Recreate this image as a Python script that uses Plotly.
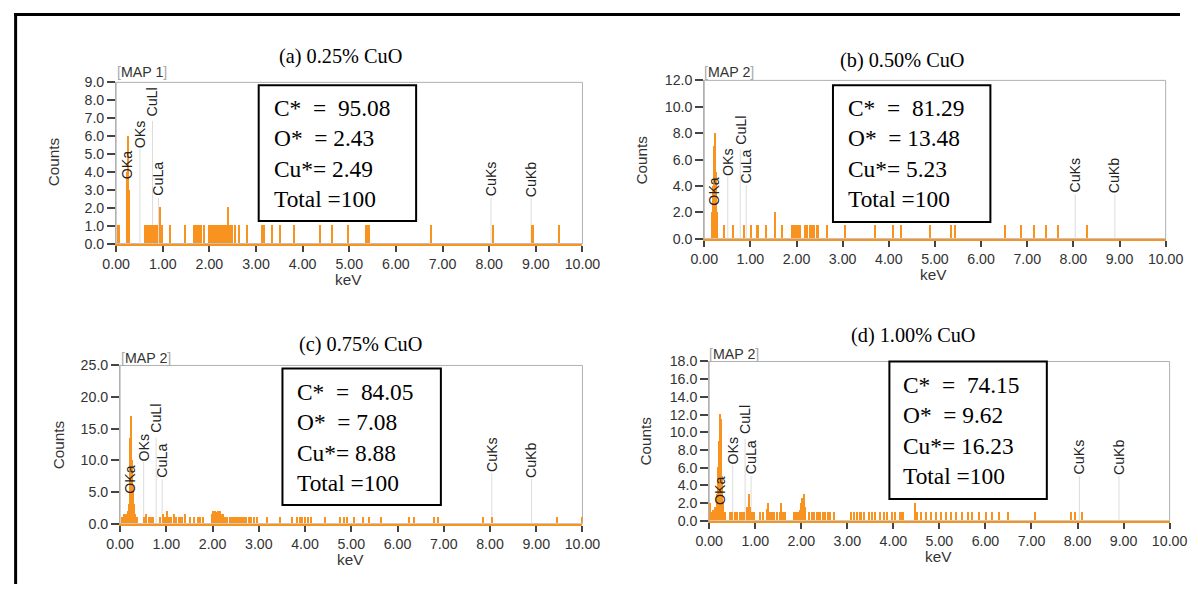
import plotly.graph_objects as go

# ---------------- data ----------------
titles = ["(a) 0.25% CuO", "(b) 0.50% CuO", "(c) 0.75% CuO", "(d) 1.00% CuO"]
map_labels = ["MAP 1", "MAP 2", "MAP 2", "MAP 2"]

a_kev = [0.04, 0.07,
         0.24, 0.26, 0.28,
         0.62, 0.65, 0.69, 0.72, 0.76, 0.79, 0.83, 0.87, 0.94, 0.99,
         1.16, 1.47, 1.67, 1.72, 1.77, 1.83, 1.89,
         2.00, 2.03, 2.06, 2.09, 2.12, 2.15, 2.18, 2.21, 2.24, 2.27,
         2.30, 2.33, 2.36, 2.41, 2.45, 2.49, 2.56, 2.64, 2.80,
         3.13, 3.17, 3.34, 3.52, 3.82, 4.37, 4.64, 4.97, 5.36, 5.40, 5.43,
         6.76, 8.09, 8.93, 9.50]
a_cnt = [1, 1,
         4, 6, 3,
         1, 1, 1, 1, 1, 1, 1, 1, 2, 1,
         1, 1, 1, 1, 1, 1, 1,
         1, 1, 1, 1, 1, 1, 1, 1, 1, 1,
         1, 1, 1, 2, 1, 1, 1, 1, 1,
         1, 1, 1, 1, 1, 1, 1, 1, 1, 1, 1,
         1, 1, 1, 1]

b_kev = [0.17, 0.20, 0.22, 0.24, 0.26, 0.28,
         0.44, 0.62, 0.86, 1.01, 1.16, 1.34, 1.53, 1.69,
         1.91, 1.94, 1.98, 2.02, 2.05, 2.09,
         2.19, 2.23, 2.29, 2.34, 2.39, 2.44, 2.48,
         2.66, 3.05, 3.71, 4.09, 4.26, 4.89, 5.36, 5.44,
         6.53, 6.87, 7.16, 7.41, 7.68, 8.30]
b_cnt = [2, 4, 7, 8, 5, 2,
         1, 1, 1, 1, 1, 1, 2, 1,
         1, 1, 1, 1, 1, 1,
         1, 1, 1, 1, 1, 1, 1,
         1, 1, 1, 1, 1, 1, 1, 1,
         1, 1, 1, 1, 1, 1]

c_kev = [0.04, 0.09, 0.13, 0.18,
         0.20, 0.22, 0.24, 0.26, 0.28, 0.30,
         0.32, 0.36,
         0.51, 0.57, 0.63, 0.68, 0.71,
         0.86, 0.93, 0.97, 1.01, 1.06, 1.11, 1.16, 1.21, 1.27, 1.33, 1.40,
         1.51, 1.61, 1.68, 1.73, 1.79,
         2.00, 2.02, 2.05, 2.08, 2.11, 2.14, 2.17, 2.20, 2.23, 2.27,
         2.32, 2.37, 2.42, 2.47, 2.52, 2.57, 2.62, 2.67, 2.72, 2.78, 2.84, 2.90, 2.97,
         3.18, 3.46, 3.71, 3.82, 3.89, 3.94, 4.00, 4.07, 4.14, 4.43,
         4.75, 4.84, 4.91, 5.07, 5.25, 5.39, 5.64, 6.25, 6.36, 6.79, 6.87,
         7.86, 8.04, 9.46, 9.99]
c_cnt = [1, 1.5, 1.5, 2,
         3, 13.5, 17, 10, 6, 3,
         1.5, 1,
         1, 1.5, 1, 1, 1,
         1, 1.5, 1, 2, 1, 1, 1.5, 1, 1, 1, 1.5,
         1, 1, 1, 1, 1,
         1.5, 2, 2, 1.8, 2, 1.5, 2, 1.5, 1.5, 1,
         1, 1, 1, 1, 1, 1, 1, 1, 1, 1, 1, 1, 1,
         1, 1, 1, 1, 1, 1, 1, 1, 1, 1,
         1, 1, 1, 1, 1, 1, 1, 1, 1, 1, 1,
         1, 1, 1, 1]

d_kev = [0.01, 0.05, 0.09, 0.13,
         0.18, 0.20, 0.22, 0.24, 0.26, 0.28, 0.30,
         0.34,
         0.46, 0.50, 0.57, 0.61, 0.68, 0.72, 0.77, 0.82, 0.86, 0.89, 0.93, 0.97,
         1.11, 1.18, 1.25, 1.29, 1.32, 1.37, 1.42, 1.47, 1.54, 1.57, 1.61, 1.66,
         1.85, 1.87, 1.90, 1.93, 1.97, 2.00, 2.03, 2.06, 2.09,
         2.18, 2.23, 2.29, 2.35, 2.40, 2.47, 2.52, 2.58, 2.63, 2.72,
         3.08, 3.15, 3.22, 3.29, 3.36, 3.47, 3.54, 3.61, 3.71, 3.81, 3.86, 3.97, 4.04, 4.16, 4.22,
         4.47, 4.51,
         4.61, 4.72, 4.83, 4.94, 5.04, 5.15, 5.26, 5.36, 5.49, 5.62, 5.72, 5.87, 6.01, 6.14, 6.29, 6.50,
         7.08, 7.87, 7.94, 8.10]
d_cnt = [2, 1, 1.2, 1.5,
         3, 6, 9, 12, 11.5, 5, 2,
         1,
         1, 1, 1, 1, 1, 1, 1, 1.5, 3, 1.5, 1, 1,
         1, 1, 1.3, 2, 1, 1, 1, 1, 1, 2, 1, 1,
         1, 1, 1, 1, 1.2, 2, 2.5, 3, 1.5,
         1, 1, 1, 1, 1, 1, 1, 1, 1, 1,
         1, 1, 1, 1, 1, 1, 1, 1, 1, 1, 1, 1, 1, 1, 1,
         2, 1,
         1, 1, 1, 1, 1, 1, 1, 1, 1, 1, 1, 1, 1, 1, 1, 1,
         1, 1, 1, 1]

line_names = ["OKa", "OKs", "CuLl", "CuLa", "CuKs", "CuKb"]
line_kev = [0.22, 0.51, 0.78, 0.91, 8.04, 8.90]

comp_C = ["95.08", "81.29", "84.05", "74.15"]
comp_O = ["2.43", "13.48", "7.08", "9.62"]
comp_Cu = ["2.49", "5.23", "8.88", "16.23"]
comp_total = ["100", "100", "100", "100"]

# ---------------- layout (pixel geometry) ----------------
W, H = 1198, 592
K = 0.983      # observed scale of the captured page
OX, OY = 8, 8  # default page margin
ORANGE = "#F7931E"
SANS = "Liberation Sans"
SERIF = "Liberation Serif"

def fx(p):
    return (p / K - OX) / W

def fy(p):
    return 1 - (p / K - OY) / H

def fs(s):
    return round(s / K, 1)

spectra = [(a_kev, a_cnt), (b_kev, b_cnt), (c_kev, c_cnt), (d_kev, d_cnt)]
geom = [
    dict(l=111, r=582, t=83, b=246, ymax=9, dt=1, title=(338, 57), box=(255, 414, 86, 223), txt=(268, 155),
         counts=(48, 163), kev=(346, 282), map=(110, 73), laby=[4.4, 6.1, 7.9, 3.6, 3.6, 3.6]),
    dict(l=705, r=1171, t=81, b=241, ymax=12, dt=2, title=(905, 61), box=(835, 994, 86, 224), txt=(848, 155),
         counts=(642, 161), kev=(937, 277), map=(703, 73), laby=[3.6, 5.8, 8.2, 5.5, 4.8, 4.8]),
    dict(l=115, r=582, t=369, b=529, ymax=25, dt=5, title=(358, 348), box=(279, 439, 372, 510), txt=(292, 442),
         counts=(53, 449), kev=(348, 565), map=(114, 361), laby=[7.0, 12.0, 16.6, 10.0, 11.0, 10.0]),
    dict(l=710, r=1175, t=365, b=526, ymax=18, dt=2, title=(916, 339), box=(892, 1051, 365, 504), txt=(904, 435),
         counts=(646, 445), kev=(942, 562), map=(708, 357), laby=[3.4, 7.9, 11.4, 7.2, 7.2, 7.2]),
]

fig = go.Figure()
layout = dict(width=W, height=H, margin=dict(l=0, r=0, t=0, b=0, pad=0),
              paper_bgcolor="white", plot_bgcolor="white", showlegend=False,
              bargap=0)
shapes = []
annotations = []

for i, ((kev, cnt), g) in enumerate(zip(spectra, geom)):
    ax = "" if i == 0 else str(i + 1)
    fig.add_trace(go.Bar(x=kev, y=cnt, width=0.045,
                         marker=dict(color=ORANGE, line=dict(width=0)),
                         xaxis="x" + ax, yaxis="y" + ax, hoverinfo="skip"))
    layout["xaxis" + ax] = dict(
        domain=[fx(g["l"]), fx(g["r"])], range=[0, 10], dtick=1, tick0=0,
        tickformat=".2f", ticks="outside", ticklen=6, tickwidth=1.5, tickcolor="#444",
        tickfont=dict(family=SANS, size=fs(14), color="#333"),
        showline=True, linecolor=ORANGE, linewidth=2,
        showgrid=False, zeroline=False, anchor="y" + ax, fixedrange=True)
    layout["yaxis" + ax] = dict(
        domain=[fy(g["b"]), fy(g["t"])], range=[0, g["ymax"]], dtick=g["dt"], tick0=0,
        tickformat=".1f", ticks="outside", ticklen=8, tickwidth=1.5, tickcolor="#444",
        tickfont=dict(family=SANS, size=fs(14), color="#333"),
        showline=True, linecolor="#b0b0b0", linewidth=1,
        showgrid=False, zeroline=False, anchor="x" + ax, fixedrange=True)
    shapes.append(dict(type="rect", xref="x" + ax + " domain", yref="y" + ax + " domain",
                       x0=0, x1=1, y0=0, y1=1, line=dict(color="#b0b0b0", width=1), layer="below"))
    ppc = (g["b"] - g["t"]) / g["ymax"]
    for name, e, ly in zip(line_names, line_kev, g["laby"]):
        half = (len(name) * 9 + 2) / 2 / ppc
        shapes.append(dict(type="line", xref="x" + ax, yref="y" + ax, x0=e, x1=e, y0=0, y1=ly - half,
                           line=dict(color="#dcdcdc", width=1), layer="below"))
        annotations.append(dict(x=e, y=ly, xref="x" + ax, yref="y" + ax, text=name, showarrow=False,
                                textangle=-90, xanchor="center", yanchor="middle",
                                font=dict(family=SANS, size=fs(14), color="#222")))
    annotations.append(dict(x=fx(g["title"][0]), y=fy(g["title"][1]), xref="paper", yref="paper",
                            text=titles[i], showarrow=False, xanchor="center", yanchor="middle",
                            font=dict(family=SERIF, size=fs(20), color="black")))
    annotations.append(dict(x=fx(g["map"][0]), y=fy(g["map"][1]), xref="paper", yref="paper",
                            text="<span style='color:#aaa'>[</span>" + map_labels[i] + "<span style='color:#aaa'>]</span>",
                            showarrow=False, xanchor="left", yanchor="middle",
                            font=dict(family=SANS, size=fs(14), color="#333")))
    annotations.append(dict(x=fx(g["counts"][0]), y=fy(g["counts"][1]), xref="paper", yref="paper",
                            text="Counts", showarrow=False, textangle=-90, xanchor="center", yanchor="middle",
                            font=dict(family=SANS, size=fs(15), color="#333")))
    annotations.append(dict(x=fx(g["kev"][0]), y=fy(g["kev"][1]), xref="paper", yref="paper",
                            text="keV", showarrow=False, xanchor="center", yanchor="middle",
                            font=dict(family=SANS, size=fs(15), color="#333")))
    bx = g["box"]
    shapes.append(dict(type="rect", xref="paper", yref="paper",
                       x0=fx(bx[0]), x1=fx(bx[1]), y0=fy(bx[3]), y1=fy(bx[2]),
                       line=dict(color="black", width=2), fillcolor="white", layer="above"))
    nb = "\u00a0"
    txt = ("C*" + nb + " =" + nb + " " + comp_C[i] + "<br>" +
           "O*" + nb + " = " + comp_O[i] + "<br>" +
           "Cu*= " + comp_Cu[i] + "<br>" +
           "Total =" + comp_total[i])
    annotations.append(dict(x=fx(g["txt"][0]), y=fy(g["txt"][1]), xref="paper", yref="paper",
                            text=txt, showarrow=False, align="left", xanchor="left", yanchor="middle",
                            font=dict(family=SERIF, size=fs(23), color="black")))

# outer black frame (top and left edges)
shapes.append(dict(type="line", xref="paper", yref="paper", x0=max(fx(8), 0), x1=1.0, y0=fy(14.5), y1=fy(14.5),
                   line=dict(color="black", width=3), layer="above"))
shapes.append(dict(type="line", xref="paper", yref="paper", x0=max(fx(9.5), 0.0013), x1=max(fx(9.5), 0.0013),
                   y0=fy(13), y1=0, line=dict(color="black", width=3), layer="above"))

layout["shapes"] = shapes
layout["annotations"] = annotations
fig.update_layout(**layout)
fig.write_html("out.html")
